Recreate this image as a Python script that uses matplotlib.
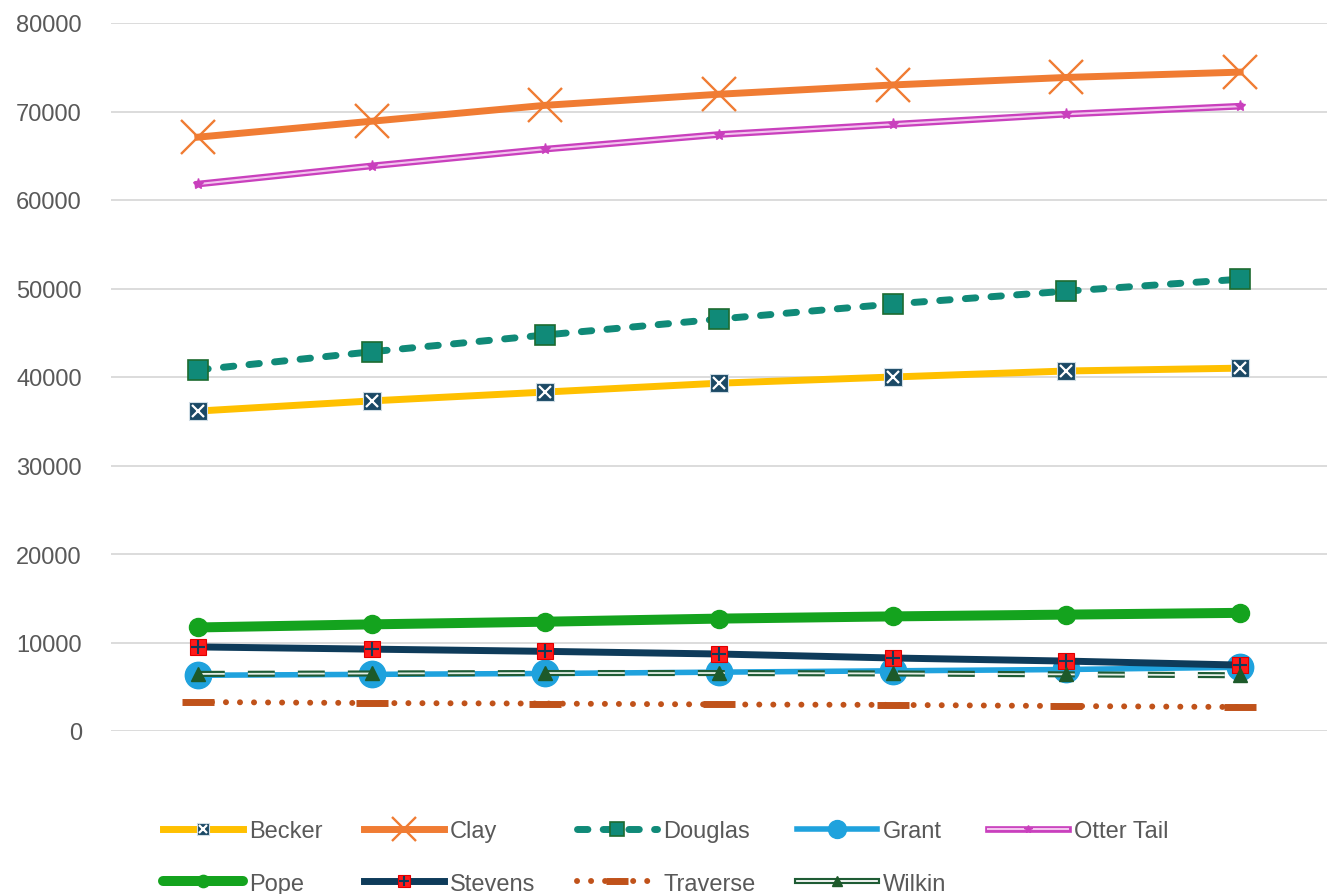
import numpy as np
import matplotlib
matplotlib.use("Agg")
import matplotlib.pyplot as plt
from matplotlib.lines import Line2D

# values (7 periods, x labels not shown)
periods = np.arange(7)
becker = [36150, 37300, 38300, 39300, 40000, 40680, 41000]
clay = [67100, 68900, 70700, 71950, 73000, 73850, 74450]
douglas = [40800, 42850, 44750, 46550, 48250, 49700, 51050]
grant = [6300, 6400, 6500, 6650, 6800, 6950, 7200]
otter_tail = [61800, 63850, 65750, 67400, 68550, 69700, 70600]
pope = [11700, 12050, 12350, 12700, 12950, 13150, 13350]
stevens = [9500, 9250, 9000, 8700, 8250, 7900, 7450]
traverse = [3270, 3160, 3100, 3000, 2950, 2820, 2710]
wilkin = [6450, 6500, 6550, 6550, 6500, 6400, 6300]

yticks = [0, 10000, 20000, 30000, 40000, 50000, 60000, 70000, 80000]

plt.rcParams['font.family'] = ['Liberation Sans', 'DejaVu Sans']
fig = plt.figure(figsize=(13.31, 8.95), dpi=100)
ax = fig.add_axes([111 / 1331, 1 - 732 / 895, 1216 / 1331, 708 / 895])

# Becker: gold line, navy square with white x
b1, = ax.plot(periods, becker, color='#FFC000', lw=5, marker='s', ms=13,
              mfc='#1B4965', mec='#d0dde5', mew=0.8, zorder=3)
b2, = ax.plot(periods, becker, ls='none', marker='x', ms=8, mec='white',
              mew=1.6, zorder=3.1)

# Clay
c1, = ax.plot(periods, clay, color='#F07C33', lw=5, marker='x', ms=25,
              mew=1.7, zorder=4)

# Douglas: dashed teal
d1, = ax.plot(periods, douglas, color='#108A78', lw=5, ls=(0, (1.5, 2.2)),
              dash_capstyle='round', marker='s', ms=14, mfc='#108A78',
              mec='#1D6B30', mew=1.2, zorder=5)

# Grant
g1, = ax.plot(periods, grant, color='#1FA2DD', lw=4, marker='o', ms=19,
              zorder=6)

# Otter Tail: double line
o1, = ax.plot(periods, otter_tail, color='#C940BD', lw=4.8, zorder=7)
o2, = ax.plot(periods, otter_tail, color='#F3C4EE', lw=1.5, marker='*',
              ms=8, mfc='#C940BD', mec='#C940BD', zorder=7.1)

# Pope
p1, = ax.plot(periods, pope, color='#14A31E', lw=7.2, marker='o', ms=13,
              solid_capstyle='round', zorder=8)

# Stevens: navy line, red square with plus
s1, = ax.plot(periods, stevens, color='#0E3B5A', lw=5, marker='s', ms=12,
              mfc='#FF1A1A', mec='#E00000', mew=0.8, zorder=9)
s2, = ax.plot(periods, stevens, ls='none', marker='+', ms=10, mec='#0E3B5A',
              mew=1.5, zorder=9.1)

# Traverse: round dots with bar markers
t1, = ax.plot(periods, traverse, color='#C0521A', lw=4.3,
              ls=(0, (0.01, 2.34)), dash_capstyle='round', marker='_',
              ms=23, mew=5, zorder=10)

# Wilkin: dashed double line
dash_pt, gap_pt = 19.4, 16.6
w1, = ax.plot(periods, wilkin, color='#1F5C35', lw=4.4,
              ls=(0, (dash_pt / 4.4, gap_pt / 4.4)), zorder=11)
w2, = ax.plot(periods, wilkin, color='#E6EFE8', lw=1.3,
              ls=(0, (dash_pt / 1.3, gap_pt / 1.3)), zorder=11.1)
w3, = ax.plot(periods, wilkin, ls='none', marker='^', ms=10, mfc='#1D5A2A',
              mec='#1D5A2A', zorder=11.2)

ax.set_xlim(-0.5, 6.5)
ax.set_ylim(0, 80000)
ax.set_yticks(yticks)
ax.set_yticklabels([str(v) for v in yticks])
ax.set_xticks([])
ax.tick_params(axis='y', length=0, pad=21, labelsize=17, labelcolor='#595959')
for sp in ax.spines.values():
    sp.set_visible(False)
ax.grid(axis='y', color='#D9D9D9', lw=1.3)
ax.set_axisbelow(True)

# legend shows Wilkin as a solid double line
wl1 = Line2D([], [], color='#1F5C35', lw=4.4)
wl2 = Line2D([], [], color='white', lw=1.3)

handles = [(b1, b2), p1, c1, (s1, s2), d1, t1, g1, (wl1, wl2, w3), (o1, o2)]
labels = ['Becker', 'Pope', 'Clay', 'Stevens', 'Douglas', 'Traverse',
          'Grant', 'Wilkin', 'Otter Tail']
fig.legend(handles, labels, loc='upper left',
           bbox_to_anchor=(163 / 1331, 1 - 821 / 895), ncol=5, frameon=False,
           fontsize=17, labelcolor='#595959', handlelength=3.4,
           handletextpad=0.25, columnspacing=1.75, labelspacing=1.3,
           borderpad=0, borderaxespad=0, markerscale=0.68, numpoints=1)

fig.savefig('out.png', dpi=100)
